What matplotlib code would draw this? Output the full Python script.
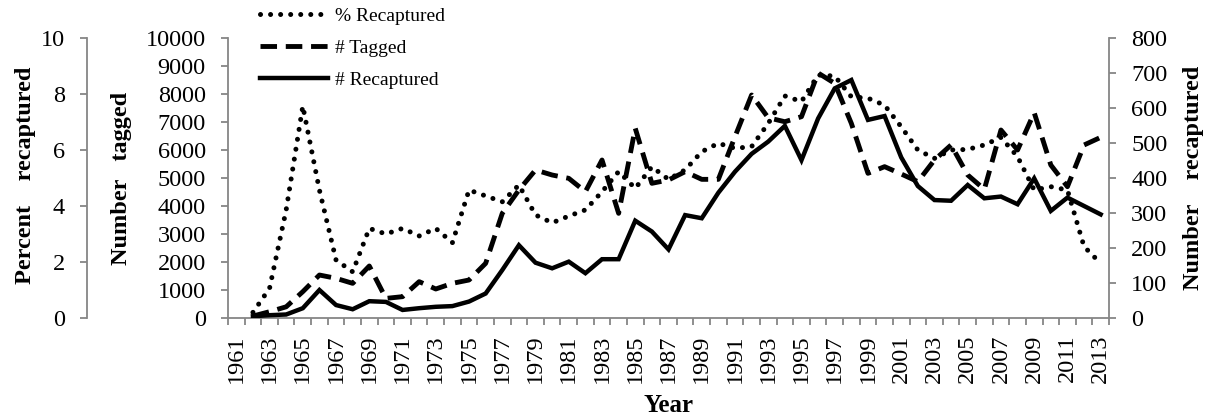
import matplotlib
matplotlib.use("Agg")
import matplotlib.pyplot as plt
from matplotlib.ticker import FixedLocator, NullFormatter

# ---- data ----
years = list(range(1962, 2014))
pct_recaptured = [0.2, 1.06, 3.86, 7.57, 4.57, 2.07, 1.65, 3.2, 3.0, 3.2, 2.93, 3.2, 2.69,
                  4.57, 4.36, 4.15, 4.75, 3.68, 3.4, 3.64, 3.86, 4.51, 5.23, 4.63, 5.4, 4.95,
                  5.29, 5.94, 6.24, 6.06, 6.12, 6.95, 7.93, 7.73, 8.68, 8.64, 7.9, 7.85, 7.6,
                  6.83, 6.0, 5.7, 6.0, 6.02, 6.18, 6.45, 5.76, 4.57, 4.69, 4.57, 2.55, 1.95]
n_tagged = [70, 225, 400, 940, 1535, 1417, 1238, 1857, 700, 762, 1298, 1036, 1238, 1357,
            1952, 3738, 4571, 5286, 5107, 4988, 4512, 5643, 3738, 6775, 4810, 4930, 5226,
            4952, 4952, 6476, 7964, 7150, 7010, 7190, 8750, 8380, 6950, 5167, 5405, 5143,
            4870, 5643, 6179, 5107, 4595, 6714, 6000, 7333, 5464, 4690, 6179, 6452]
n_recaptured = [5, 8, 10, 28, 80, 37, 25, 48, 46, 23, 28, 32, 34, 47, 70, 137, 208, 158,
                142, 161, 128, 168, 168, 278, 247, 196, 294, 285, 358, 418, 469, 504, 549,
                451, 570, 656, 680, 566, 577, 459, 377, 337, 335, 380, 342, 347, 325, 399,
                306, 344, 320, 296]
year_labels = list(range(1961, 2014, 2))
all_years = list(range(1961, 2014))

plt.rcParams['font.family'] = ['Liberation Serif', 'DejaVu Serif']
W, H = 1207, 419
fig = plt.figure(figsize=(W / 100, H / 100), dpi=100)

L, R, B, T = 228, 1109, 318, 38
ax = fig.add_axes([L / W, 1 - B / H, (R - L) / W, (B - T) / H])
ax_p = ax.twinx()
ax_r = ax.twinx()

GRAY = '#868686'
TICK_FS = 17.5

# percent axis (outer left)
l1, = ax_p.plot(years, pct_recaptured, color='black', lw=3.6,
                linestyle=(0, (0.01, 2.0)), dash_capstyle='round', label='% Recaptured')
# tagged (inner left)
l2, = ax.plot(years, n_tagged, color='black', lw=3.5,
              linestyle=(0, (3.4, 1.8)), dash_capstyle='butt', label='# Tagged')
# recaptured (right)
l3, = ax_r.plot(years, n_recaptured, color='black', lw=3.2, solid_joinstyle='miter',
                label='# Recaptured')

for a in (ax, ax_p, ax_r):
    a.set_xlim(1960.5, 2013.5)
    a.patch.set_visible(False)
    for s in a.spines.values():
        s.set_visible(False)
        s.set_color(GRAY)
        s.set_linewidth(1.3)

ax.set_ylim(0, 10000)
ax.set_yticks(range(0, 10001, 1000))
ax.spines['left'].set_visible(True)
ax.spines['bottom'].set_visible(True)
ax.tick_params(axis='y', direction='out', length=5, width=1.3, color=GRAY,
               labelsize=TICK_FS, pad=11)

# x axis: labels at odd-year categories, tick marks at category boundaries
ax.set_xticks(year_labels)
ax.set_xticklabels([str(y) for y in year_labels], rotation=90)
ax.xaxis.set_minor_locator(FixedLocator([y - 0.5 for y in all_years] + [2013.5]))
ax.xaxis.set_minor_formatter(NullFormatter())
ax.tick_params(axis='x', which='major', length=0, labelsize=TICK_FS, pad=12)
ax.tick_params(axis='x', which='minor', direction='out', length=5, width=1.3, color=GRAY)

ax_p.set_ylim(0, 10)
ax_p.set_yticks(range(0, 11, 2))
ax_p.yaxis.set_ticks_position('left')
ax_p.spines['left'].set_visible(True)
ax_p.spines['left'].set_position(('axes', (87 - L) / (R - L)))
ax_p.tick_params(axis='y', direction='out', length=5, width=1.3, color=GRAY,
                 labelsize=TICK_FS, pad=11)

ax_r.set_ylim(0, 800)
ax_r.set_yticks(range(0, 801, 100))
ax_r.spines['right'].set_visible(True)
ax_r.tick_params(axis='y', direction='out', length=5, width=1.3, color=GRAY,
                 labelsize=TICK_FS, pad=11)

# axis titles
LAB_FS = 17.5
fig.text(26 / W, 1 - 175 / H, 'Percent    recaptured', rotation=90, fontsize=LAB_FS,
         fontweight='bold', ha='center', va='center')
fig.text(122 / W, 1 - 178 / H, 'Number   tagged', rotation=90, fontsize=LAB_FS,
         fontweight='bold', ha='center', va='center')
fig.text(1193 / W, 1 - 178 / H, 'Number    recaptured', rotation=90, fontsize=LAB_FS,
         fontweight='bold', ha='center', va='center')
fig.text(668 / W, 1 - 405 / H, 'Year', fontsize=18, fontweight='bold',
         ha='center', va='center')

fig.legend(handles=[l1, l2, l3], loc='upper left', bbox_to_anchor=(260 / W, 1 - 7 / H),
           frameon=False, fontsize=14, handlelength=3.5, handletextpad=0.35,
           labelspacing=0.75, borderpad=0, borderaxespad=0)

fig.savefig('out.png', dpi=100)
